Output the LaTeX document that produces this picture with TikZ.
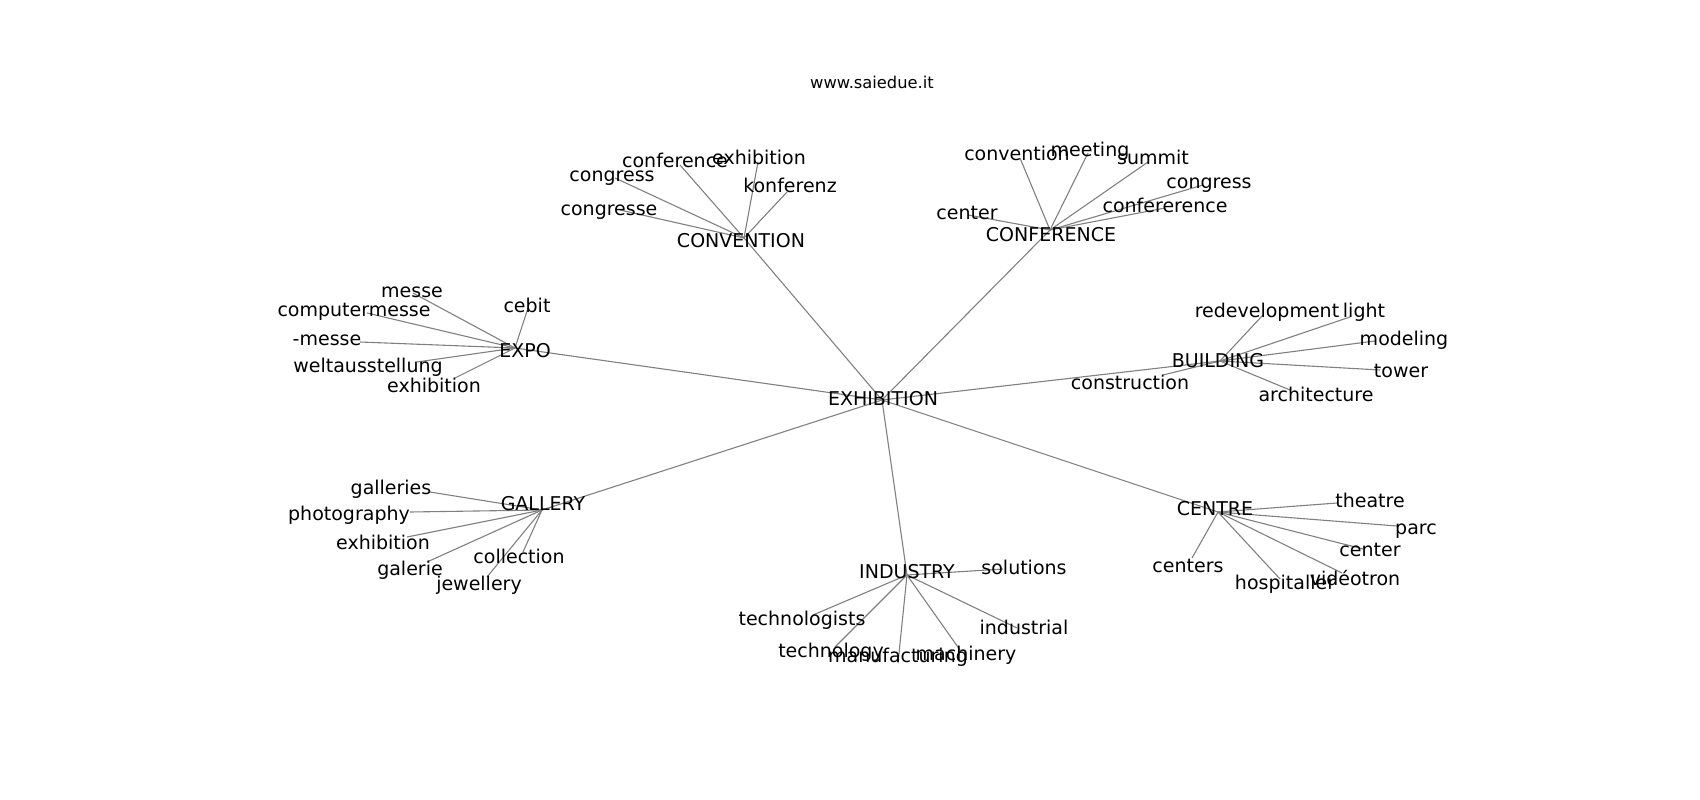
\documentclass[tikz,border=0pt]{standalone}
\usepackage{fontspec}
\setmainfont{DejaVu Sans}
\begin{document}
\begin{tikzpicture}[x=1pt,y=-1pt,
  edge/.style={draw=black!50,line width=1.1pt},
  lbl/.style={inner sep=0pt,text height=0.73em,text depth=0pt,anchor=center,yshift=-4pt,font=\fontsize{19}{22}\selectfont,text=black},
  ttl/.style={inner sep=0pt,text height=0.73em,text depth=0pt,anchor=center,yshift=-3pt,font=\fontsize{16.3}{19}\selectfont,text=black}]
\useasboundingbox (0,0) rectangle (1700,800);
% node positions
\coordinate (EXH) at (882,400);
\coordinate (CONV) at (744,238);
\coordinate (CONF) at (1050,230);
\coordinate (EXPO) at (515,348);
\coordinate (BUIL) at (1220,361);
\coordinate (GALL) at (542,510);
\coordinate (CENT) at (1218,512);
\coordinate (INDU) at (907,575);
% CONVENTION leaves
\coordinate (cv1) at (680,165);
\coordinate (cv2) at (758,162);
\coordinate (cv3) at (615,178);
\coordinate (cv4) at (787,192);
\coordinate (cv5) at (620,210);
% CONFERENCE leaves
\coordinate (cf1) at (1020,158);
\coordinate (cf2) at (1088,153);
\coordinate (cf3) at (1148,162);
\coordinate (cf4) at (1203,185);
\coordinate (cf5) at (1165,208);
\coordinate (cf6) at (968,215);
% EXPO leaves
\coordinate (ex1) at (413,293);
\coordinate (ex2) at (367,313);
\coordinate (ex3) at (360,342);
\coordinate (ex4) at (417,362);
\coordinate (ex5) at (455,378);
\coordinate (ex6) at (528,308);
% BUILDING leaves
\coordinate (bu1) at (1263,315);
\coordinate (bu2) at (1350,317);
\coordinate (bu3) at (1375,341);
\coordinate (bu4) at (1380,370);
\coordinate (bu5) at (1290,390);
\coordinate (bu6) at (1163,375);
% GALLERY leaves
\coordinate (ga1) at (430,492);
\coordinate (ga2) at (410,512);
\coordinate (ga3) at (407,537);
\coordinate (ga4) at (427,562);
\coordinate (ga5) at (523,552);
\coordinate (ga6) at (487,577);
% CENTRE leaves
\coordinate (ce1) at (1337,503);
\coordinate (ce2) at (1397,526);
\coordinate (ce3) at (1363,549);
\coordinate (ce4) at (1342,573);
\coordinate (ce5) at (1280,579);
\coordinate (ce6) at (1192,558);
% INDUSTRY leaves
\coordinate (in1) at (1003,569);
\coordinate (in2) at (813,615);
\coordinate (in3) at (835,647);
\coordinate (in4) at (898,663);
\coordinate (in5) at (960,650);
\coordinate (in6) at (1017,628);
% edges
\foreach \h in {CONV,CONF,EXPO,BUIL,GALL,CENT,INDU} \draw[edge] (EXH) -- (\h);
\foreach \l in {cv1,cv2,cv3,cv4,cv5} \draw[edge] (CONV) -- (\l);
\foreach \l in {cf1,cf2,cf3,cf4,cf5,cf6} \draw[edge] (CONF) -- (\l);
\foreach \l in {ex1,ex2,ex3,ex4,ex5,ex6} \draw[edge] (EXPO) -- (\l);
\foreach \l in {bu1,bu2,bu3,bu4,bu5,bu6} \draw[edge] (BUIL) -- (\l);
\foreach \l in {ga1,ga2,ga3,ga4,ga5,ga6} \draw[edge] (GALL) -- (\l);
\foreach \l in {ce1,ce2,ce3,ce4,ce5,ce6} \draw[edge] (CENT) -- (\l);
\foreach \l in {in1,in2,in3,in4,in5,in6} \draw[edge] (INDU) -- (\l);
% title
\node[ttl] (title) at (872,82) {www.saiedue.it};
% hub labels
\node[lbl] (lEXH) at (883,398) {EXHIBITION};
\node[lbl] (lCONV) at (741,240) {CONVENTION};
\node[lbl] (lCONF) at (1051,234) {CONFERENCE};
\node[lbl] (lEXPO) at (525,350) {EXPO};
\node[lbl] (lBUIL) at (1218,360) {BUILDING};
\node[lbl] (lGALL) at (543,503) {GALLERY};
\node[lbl] (lCENT) at (1215,508) {CENTRE};
\node[lbl] (lINDU) at (907,571) {INDUSTRY};
% CONVENTION labels
\node[lbl] (lcv1) at (675,160) {conference};
\node[lbl] (lcv2) at (759,157) {exhibition};
\node[lbl] (lcv3) at (612,174) {congress};
\node[lbl] (lcv4) at (790,185) {konferenz};
\node[lbl] (lcv5) at (609,208) {congresse};
% CONFERENCE labels
\node[lbl] (lcf1) at (1017,153) {convention};
\node[lbl] (lcf2) at (1090,149) {meeting};
\node[lbl] (lcf3) at (1153,157) {summit};
\node[lbl] (lcf4) at (1209,181) {congress};
\node[lbl] (lcf5) at (1165,205) {confererence};
\node[lbl] (lcf6) at (967,212) {center};
% EXPO labels
\node[lbl] (lex1) at (412,290) {messe};
\node[lbl] (lex2) at (354,309) {computermesse};
\node[lbl] (lex3) at (327,338) {-messe};
\node[lbl] (lex4) at (368,365) {weltausstellung};
\node[lbl] (lex5) at (434,385) {exhibition};
\node[lbl] (lex6) at (527,305) {cebit};
% BUILDING labels
\node[lbl] (lbu1) at (1267,310) {redevelopment};
\node[lbl] (lbu2) at (1364,310) {light};
\node[lbl] (lbu3) at (1404,338) {modeling};
\node[lbl] (lbu4) at (1401,370) {tower};
\node[lbl] (lbu5) at (1316,394) {architecture};
\node[lbl] (lbu6) at (1130,382) {construction};
% GALLERY labels
\node[lbl] (lga1) at (391,487) {galleries};
\node[lbl] (lga2) at (349,513) {photography};
\node[lbl] (lga3) at (383,542) {exhibition};
\node[lbl] (lga4) at (410,568) {galerie};
\node[lbl] (lga5) at (519,556) {collection};
\node[lbl] (lga6) at (479,583) {jewellery};
% CENTRE labels
\node[lbl] (lce1) at (1370,500) {theatre};
\node[lbl] (lce2) at (1416,527) {parc};
\node[lbl] (lce3) at (1370,549) {center};
\node[lbl] (lce4) at (1355,578) {vidéotron};
\node[lbl] (lce5) at (1285,582) {hospitaller};
\node[lbl] (lce6) at (1188,565) {centers};
% INDUSTRY labels
\node[lbl] (lin1) at (1024,567) {solutions};
\node[lbl] (lin2) at (802,618) {technologists};
\node[lbl] (lin3) at (831,650) {technology};
\node[lbl] (lin4) at (898,655) {manufacturing};
\node[lbl] (lin5) at (966,653) {machinery};
\node[lbl] (lin6) at (1024,627) {industrial};
\end{tikzpicture}
\end{document}
